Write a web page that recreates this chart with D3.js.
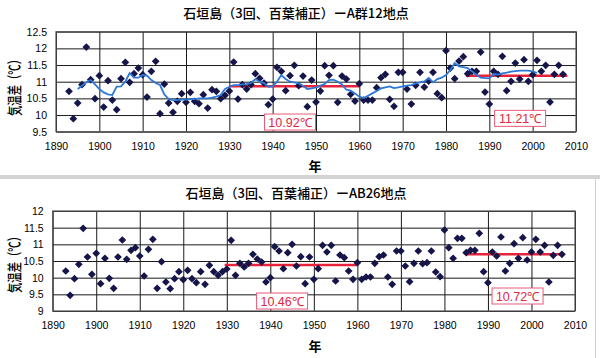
<!DOCTYPE html>
<html>
<head>
<meta charset="utf-8">
<title>石垣島 気温差</title>
<script src="https://d3js.org/d3.v7.min.js"></script>
<style>
  body { margin: 0; background: #fff; }
  svg { display: block; }
  .tick text { font: 10.5px "Liberation Sans", Arial, sans-serif; fill: #000; }
  .jp { font-family: "Noto Sans CJK JP", sans-serif; fill: #000; }
</style>
</head>
<body>
<script>
// --- data ---
var years = d3.range(1893, 2008);

// A群12地点
var tempA = [
  10.71, 9.89, 10.36, 10.91, 12.04, 11.06, 10.49, 11.18, 10.24, 11.03,   // 1893-1902
  10.45, 10.16, 11.09, 11.58, 10.98, 11.24, 11.41, 11.21, 10.54, 11.31,  // 1903-1912
  11.61, 10.04, 10.93, 10.36, 10.08, 10.41, 10.64, 10.38, 10.68, 10.41,  // 1913-1922
  10.34, 10.61, 10.21, 10.76, 10.71, 10.49, 10.59, 10.72, 11.59, 10.48,  // 1923-1932
  10.91, 10.78, 10.91, 11.24, 11.10, 10.96, 10.31, 10.48, 11.43, 11.31,  // 1933-1942
  10.73, 11.18, 11.49, 10.88, 11.17, 10.25, 11.05, 10.39, 10.72, 11.48,  // 1943-1952
  11.19, 11.48, 10.38, 11.17, 11.08, 10.62, 10.42, 10.94, 10.45, 10.45,  // 1953-1962
  10.45, 10.82, 11.12, 11.22, 10.47, 10.26, 11.28, 11.28, 10.78, 10.33,  // 1963-1972
  10.89, 11.28, 10.84, 11.02, 11.28, 10.64, 10.52, 11.93, 11.41, 11.09,  // 1973-1982
  11.62, 11.75, 11.24, 11.31, 11.31, 11.89, 10.69, 10.33, 11.31, 11.22,  // 1983-1992
  11.76, 10.73, 11.01, 11.56, 11.08, 11.66, 11.01, 11.21, 11.64, 11.31,  // 1993-2002
  11.49, 10.39, 11.22, 11.49, 11.22                                      // 2003-2007
];

// AB26地点
var tempAB = [
  10.20, 9.47, 9.97, 10.40, 11.48, 10.62, 10.10, 10.73, 9.82, 10.58,
  9.98, 9.68, 10.62, 11.13, 10.55, 10.82, 10.90, 10.65, 10.05, 10.85,
  11.15, 9.68, 10.48, 9.87, 9.67, 9.97, 10.18, 9.94, 10.22, 9.97,
  9.85, 10.18, 9.80, 10.37, 10.18, 10.07, 10.18, 10.26, 11.12, 10.07,
  10.43, 10.32, 10.43, 10.70, 10.56, 10.47, 9.87, 10.00, 10.93, 10.80,
  10.27, 10.75, 11.00, 10.35, 10.63, 9.82, 10.62, 9.95, 10.27, 10.97,
  10.77, 10.97, 9.90, 10.68, 10.60, 10.20, 9.95, 10.45, 9.95, 10.02,
  10.02, 10.43, 10.63, 10.68, 10.02, 9.80, 10.80, 10.80, 10.35, 9.88,
  10.43, 10.80, 10.42, 10.45, 10.80, 10.17, 10.03, 11.43, 10.90, 10.58,
  11.18, 11.18, 10.75, 10.82, 10.82, 11.33, 10.18, 9.85, 10.77, 10.65,
  11.22, 10.20, 10.43, 11.02, 10.58, 11.20, 10.53, 10.77, 11.15, 10.77,
  10.97, 9.87, 10.67, 10.97, 10.70
];

// blue running-mean line (top panel only), 1895-2001
var runYears = d3.range(1895, 2002);
var runA = [
  10.78, 10.88, 10.98, 11.05, 10.92, 10.78, 10.68, 10.62, 10.60, 10.85,
  10.86, 11.00, 11.26, 11.12, 11.12, 11.20, 11.18, 11.05, 10.96, 10.90,
  10.62, 10.48, 10.45, 10.45, 10.46, 10.46, 10.48, 10.48, 10.50, 10.50,
  10.50, 10.52, 10.55, 10.60, 10.78, 10.85, 10.90, 10.90, 10.92, 10.93,
  10.96, 11.08, 11.00, 10.96, 10.85, 10.86, 11.00, 11.20, 11.08, 11.00,
  10.98, 10.95, 10.88, 10.78, 10.80, 10.83, 10.88, 10.93, 11.05, 11.06,
  11.00, 10.92, 10.76, 10.73, 10.65, 10.55, 10.51, 10.58, 10.65, 10.72,
  10.80, 10.83, 10.86, 10.81, 10.83, 10.86, 10.88, 10.90, 10.95, 10.98,
  11.01, 11.11, 10.98, 11.08, 11.12, 11.20, 11.35, 11.56, 11.46, 11.44,
  11.41, 11.31, 11.21, 11.12, 11.11, 11.10, 11.23, 11.21, 11.25, 11.27,
  11.30, 11.32, 11.33, 11.33, 11.33, 11.31, 11.26
];

// period means (red lines) and their labels
var meanA = [
  { from: 1930, to: 1960, value: 10.86, label: "10.92℃", lx: 1944.0, ly: 9.79 },
  { from: 1984.6, to: 2008, value: 11.18, label: "11.21℃", lx: 1997.1, ly: 9.90 }
];
var meanAB = [
  { from: 1929.5, to: 1960, value: 10.38, label: "10.46℃", lx: 1942.7, ly: 9.30 },
  { from: 1985, to: 2007.5, value: 10.70, label: "10.72℃", lx: 1996.8, ly: 9.45 }
];

var xTicks = d3.range(1890, 2011, 10);
var yTicksA = [9.5, 10, 10.5, 11, 11.5, 12, 12.5];
var yTicksAB = [9, 9.5, 10, 10.5, 11, 11.5, 12];

var titleA = "石垣島（3回、百葉補正）ーA群12地点";
var titleAB = "石垣島（3回、百葉補正）ーAB26地点";

// --- drawing ---
var svg = d3.select("body").append("svg")
    .attr("width", 600)
    .attr("height", 358);

svg.append("rect").attr("width", 600).attr("height", 358).attr("fill", "#fff");

// separator between the two pasted charts
svg.append("rect").attr("x", 0).attr("y", 175).attr("width", 600).attr("height", 4).attr("fill", "#d4d4d4");
svg.append("line").attr("x1", 595.5).attr("x2", 595.5).attr("y1", 179).attr("y2", 358)
    .attr("stroke", "#d0d0d0").attr("stroke-width", 1);

var panels = [
  { title: titleA, values: tempA, run: runA, means: meanA, yTicks: yTicksA,
    left: 56, right: 576, top: 31.7, bottom: 131.7, titleY: 18, yLabelY: 85, yearY: 171 },
  { title: titleAB, values: tempAB, run: null, means: meanAB, yTicks: yTicksAB,
    left: 52.7, right: 575, top: 211, bottom: 311, titleY: 198, yLabelY: 262, yearY: 351 }
];

var diamond = d3.symbol().type(d3.symbolSquare).size(30);

panels.forEach(function(p) {
  var x = d3.scaleLinear().domain([1890, 2010]).range([p.left, p.right]);
  var y = d3.scaleLinear().domain(d3.extent(p.yTicks)).range([p.bottom, p.top]);

  var g = svg.append("g");

  // grid
  g.append("g")
      .attr("transform", "translate(0," + p.bottom + ")")
      .call(d3.axisBottom(x).tickValues(xTicks).tickFormat(d3.format("d"))
            .tickSize(-(p.bottom - p.top)).tickPadding(11))
      .call(function(a) {
        a.select(".domain").remove();
        a.selectAll(".tick line").attr("stroke", "#1a1a1a").attr("stroke-width", 1);
      });

  g.append("g")
      .attr("transform", "translate(" + p.left + ",0)")
      .call(d3.axisLeft(y).tickValues(p.yTicks).tickFormat(d3.format(""))
            .tickSize(-(p.right - p.left)).tickPadding(9))
      .call(function(a) {
        a.select(".domain").remove();
        a.selectAll(".tick line").attr("stroke", "#1a1a1a").attr("stroke-width", 1);
      });

  g.append("rect")
      .attr("x", p.left).attr("y", p.top)
      .attr("width", p.right - p.left).attr("height", p.bottom - p.top)
      .attr("fill", "none").attr("stroke", "#555").attr("stroke-width", 1.2);

  // red mean lines
  g.selectAll(".mean").data(p.means).enter().append("line")
      .attr("x1", function(d) { return x(d.from); })
      .attr("x2", function(d) { return x(d.to); })
      .attr("y1", function(d) { return y(d.value); })
      .attr("y2", function(d) { return y(d.value); })
      .attr("stroke", "#e8223a").attr("stroke-width", 2.5);

  // points
  g.selectAll(".pt").data(p.values).enter().append("path")
      .attr("d", diamond)
      .attr("transform", function(d, i) {
        return "translate(" + x(years[i]) + "," + y(d) + ") rotate(45)";
      })
      .attr("fill", "#15154a");

  // blue running mean
  if (p.run) {
    g.append("path")
        .datum(p.run)
        .attr("fill", "none")
        .attr("stroke", "#2c78d8")
        .attr("stroke-width", 1.8)
        .attr("d", d3.line()
          .x(function(d, i) { return x(runYears[i]); })
          .y(function(d) { return y(d); }));
  }

  // mean labels
  var lab = g.selectAll(".lab").data(p.means).enter().append("g")
      .attr("transform", function(d) { return "translate(" + x(d.lx) + "," + y(d.ly) + ")"; });
  lab.append("rect")
      .attr("x", -25.5).attr("y", -8).attr("width", 51).attr("height", 16)
      .attr("fill", "#fff").attr("stroke", "#e85a78").attr("stroke-width", 1);
  lab.append("text")
      .attr("text-anchor", "middle").attr("dy", "0.36em")
      .attr("font-family", "'Liberation Sans', Arial, sans-serif")
      .attr("font-size", 12.5)
      .attr("fill", "#e3263f")
      .text(function(d) { return d.label; });

  // title
  svg.append("text").attr("class", "jp")
      .attr("x", 296).attr("y", p.titleY)
      .attr("text-anchor", "middle")
      .attr("font-size", 13)
      .attr("font-weight", 500)
      .text(p.title);

  // y label
  svg.append("text").attr("class", "jp")
      .attr("transform", "translate(20," + p.yLabelY + ") rotate(-90)")
      .attr("text-anchor", "middle")
      .attr("font-size", 15)
      .attr("font-weight", 500)
      .attr("textLength", 62).attr("lengthAdjust", "spacingAndGlyphs")
      .text("気温差（℃）");

  // x label
  svg.append("text").attr("class", "jp")
      .attr("x", 315).attr("y", p.yearY)
      .attr("text-anchor", "middle")
      .attr("font-size", 13)
      .attr("font-weight", "bold")
      .text("年");
});
</script>
</body>
</html>
